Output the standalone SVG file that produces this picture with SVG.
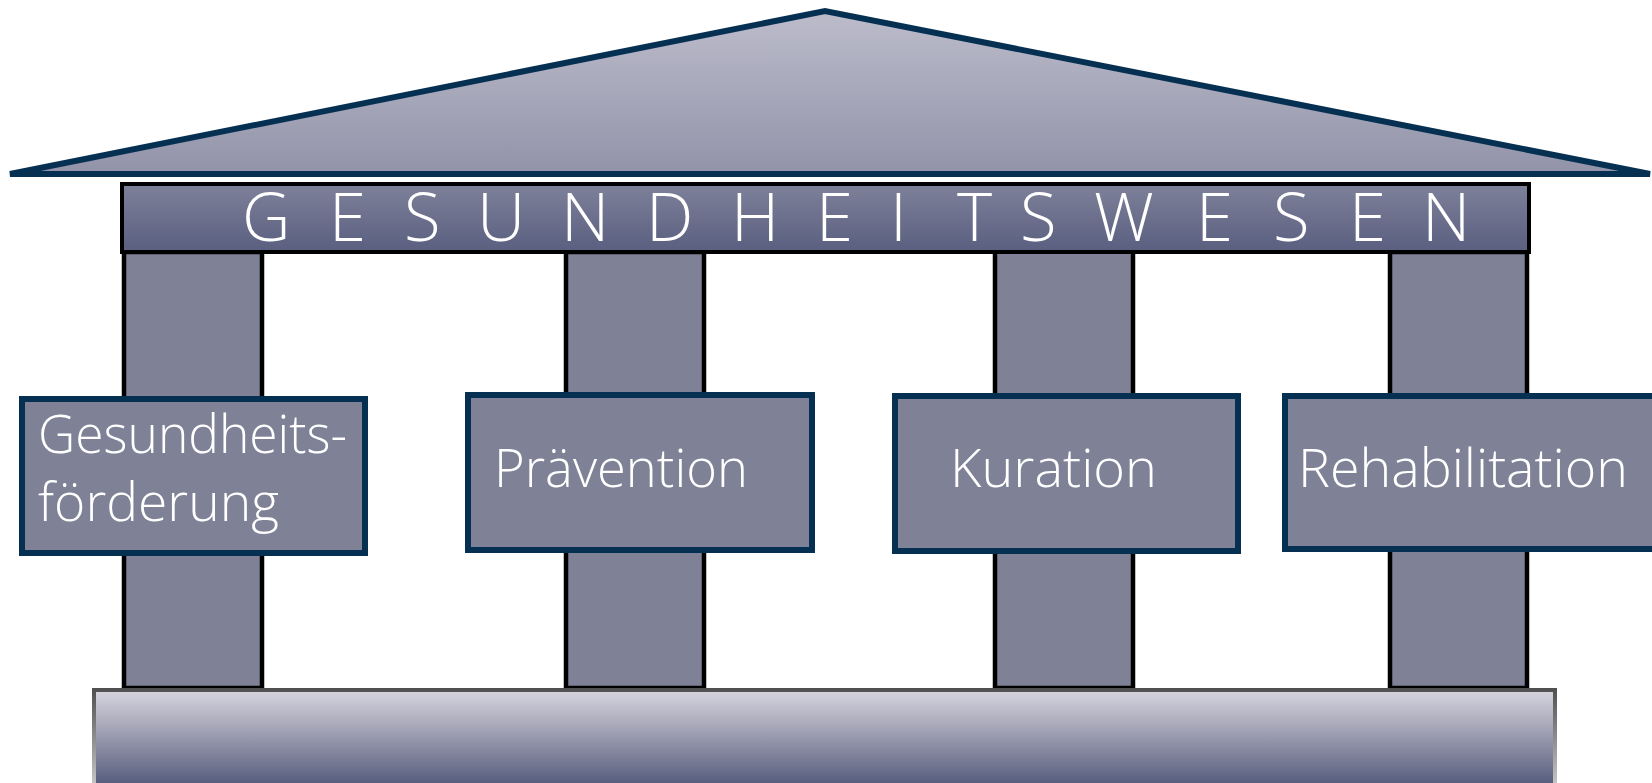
<svg xmlns="http://www.w3.org/2000/svg" width="1652" height="783" viewBox="0 0 1652 783">
<defs>
<linearGradient id="gRoof" x1="0" y1="0" x2="0" y2="1">
<stop offset="0" stop-color="#bcbccb"/>
<stop offset="1" stop-color="#9293a9"/>
</linearGradient>
<linearGradient id="gBeam" x1="0" y1="0" x2="0" y2="1">
<stop offset="0" stop-color="#7e8199"/>
<stop offset="1" stop-color="#5a5f80"/>
</linearGradient>
<linearGradient id="gBase" x1="0" y1="0" x2="0" y2="1">
<stop offset="0" stop-color="#d6d5df"/>
<stop offset="0.35" stop-color="#a9a9ba"/>
<stop offset="1" stop-color="#4e5577"/>
</linearGradient>
<linearGradient id="gBaseStroke" gradientUnits="userSpaceOnUse" x1="0" y1="688" x2="0" y2="783">
<stop offset="0" stop-color="#4f4f4f"/>
<stop offset="1" stop-color="#c4c4c4"/>
</linearGradient>
</defs>
<style>
.pillar{fill:#7f8197;stroke:#000;stroke-width:4.5}
.box{fill:#7f8197;stroke:#063052;stroke-width:6}
.lbl{font-family:"Open Sans","Noto Sans","Liberation Sans",sans-serif;font-weight:300;font-size:53px;fill:#fff}
.title{font-family:"Open Sans","Noto Sans","Liberation Sans",sans-serif;font-weight:300;font-size:67px;fill:#fff}
</style>
<g id="roof">
<polygon points="10,174 825,11 1650,174" fill="url(#gRoof)" stroke="#063052" stroke-width="6"/>
</g>
<g id="pillars">
<rect class="pillar" x="124" y="252" width="138" height="436"/>
<rect class="pillar" x="566" y="252" width="138" height="436"/>
<rect class="pillar" x="995" y="250" width="138" height="438"/>
<rect class="pillar" x="1390" y="252" width="137" height="436"/>
</g>
<g id="beam">
<rect x="122" y="184" width="1407" height="68" fill="url(#gBeam)" stroke="#000" stroke-width="4"/>
<text class="title" y="241" x="242 329 404 477 561 646 731 816 890 957 1020 1094 1196 1273 1349 1422">GESUNDHEITSWESEN</text>
</g>
<g id="base">
<rect x="94" y="690" width="1461" height="100" fill="url(#gBase)" stroke="url(#gBaseStroke)" stroke-width="4"/>
</g>
<g id="node-gesundheitsfoerderung">
<rect class="box" x="22" y="399" width="343" height="154"/>
<text class="lbl" x="38" y="453" textLength="309" lengthAdjust="spacingAndGlyphs">Gesundheits-</text>
<text class="lbl" x="38" y="521" textLength="241" lengthAdjust="spacingAndGlyphs">förderung</text>
</g>
<g id="node-praevention">
<rect class="box" x="468" y="395" width="344" height="155"/>
<text class="lbl" x="494" y="487" textLength="254" lengthAdjust="spacingAndGlyphs">Prävention</text>
</g>
<g id="node-kuration">
<rect class="box" x="895" y="396" width="343" height="155"/>
<text class="lbl" x="950" y="487" textLength="207" lengthAdjust="spacingAndGlyphs">Kuration</text>
</g>
<g id="node-rehabilitation">
<rect class="box" x="1285" y="396" width="370" height="153"/>
<text class="lbl" x="1298" y="487" textLength="330" lengthAdjust="spacingAndGlyphs">Rehabilitation</text>
</g>
</svg>
